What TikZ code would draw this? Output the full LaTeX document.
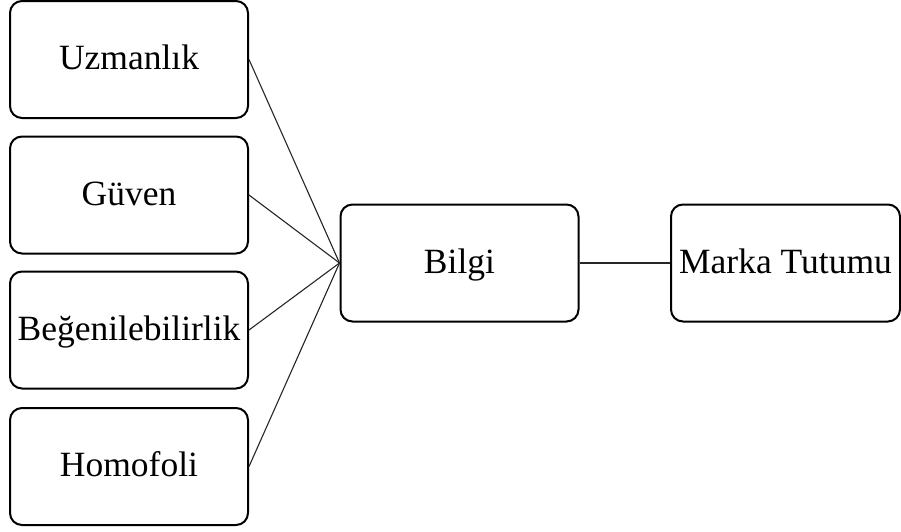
\documentclass[tikz,border=0pt]{standalone}
\usepackage{fontspec}
\setmainfont{Liberation Serif}
\usepackage{tikz}
\usetikzlibrary{positioning}

\tikzset{
  kutu/.style={draw, line width=2pt, rounded corners=12pt, inner sep=0pt,
    minimum width=238pt, minimum height=117pt, text height=27pt, text depth=7pt,
    font=\fontsize{35.5}{42}\selectfont},
  bag/.style={line width=1.1pt, draw=black!85}
}

\begin{document}
\begin{tikzpicture}[x=1pt,y=-1pt]
\useasboundingbox (0,0) rectangle (901,531);

% sol taraf
\draw (129, 59.5) node[kutu] (uzman) {Uzmanl\i k};
\draw (129, 195) node[kutu] (guven) {Güven};
\draw (129, 330) node[kutu] (begeni) {Beğenilebilirlik};
\draw (129, 466.5) node[kutu] (homo) {Homofoli};

% orta ve sag
\draw (459.5, 263) node[kutu] (bilgi) {Bilgi};
\draw (785.5, 263) node[kutu, minimum width=229pt] (marka) {Marka Tutumu};

\draw[bag] (uzman.east) -- (bilgi.west);
\draw[bag] (guven.east) -- (bilgi.west);
\draw[bag] (begeni.east) -- (bilgi.west);
\draw[bag] (homo.east) -- (bilgi.west);
\draw[bag] (bilgi.east) -- (marka.west);
\end{tikzpicture}
\end{document}
